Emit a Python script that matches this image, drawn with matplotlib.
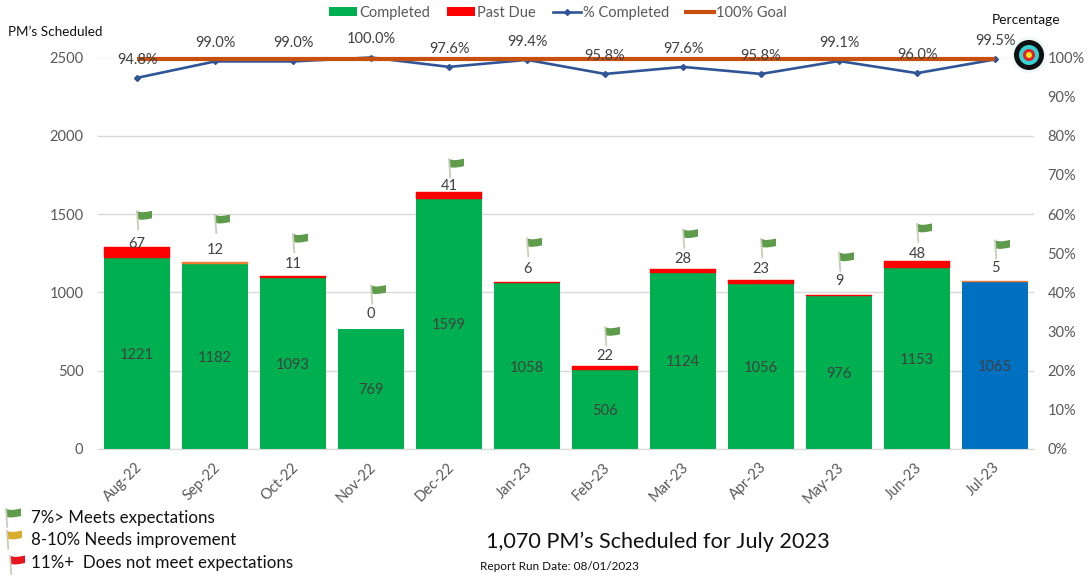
#!/usr/bin/env python
# -*- coding: utf-8 -*-
"""PM's scheduled per month, with % completed line"""
import matplotlib
matplotlib.use('Agg')
import matplotlib.pyplot as plt
from matplotlib.lines import Line2D
from matplotlib.patches import Circle, Patch, Polygon
from matplotlib.ticker import FuncFormatter, MultipleLocator
from matplotlib.transforms import Affine2D, ScaledTranslation

plt.rcParams['font.family'] = ['Lato', 'DejaVu Sans']

W, H = 1088, 578

months = ['Aug-22', 'Sep-22', 'Oct-22', 'Nov-22', 'Dec-22', 'Jan-23',
          'Feb-23', 'Mar-23', 'Apr-23', 'May-23', 'Jun-23', 'Jul-23']
completed = [1221, 1182, 1093, 769, 1599, 1058, 506, 1124, 1056, 976, 1153, 1065]
past_due = [67, 12, 11, 0, 41, 6, 22, 28, 23, 9, 48, 5]
pct_completed = [94.8, 99.0, 99.0, 100.0, 97.6, 99.4, 95.8, 97.6, 95.8, 99.1, 96.0, 99.5]
goal = [100] * 12

# hand placed in the original, pixels above the top of the stack
label_lift = [4, 13, 13, 16, 7, 14, 11, 11, 12, 15, 8, 14]
flag_lift = [36, 47, 42, 43, 33, 44, 39, 39, 41, 42, 37, 41]

GREEN = '#00B050'
RED = '#FF0000'
ORANGE = '#ED7D31'
BLUE = '#0070C0'
LINE_BLUE = '#2F5597'
GOAL = '#C8500F'
TICK = '#595959'
GRID = '#D9D9D9'
INK = '#404040'

FLAG_GREEN = '#5E9C4B'
FLAG_YELLOW = '#D9AE2E'
FLAG_RED = '#E8141E'


def draw_flag(fig, px, py, color):
    """Small flag, top of the pole at display position px, py"""
    t = Affine2D().translate(px, py)
    pole = Line2D([0, 1.3], [0, -18], color='#C9CDB8', lw=1.3, transform=t)
    banner = Polygon([(0, 0), (5, -1), (10, -0.5), (15, 0.5), (15, -7), (10, -8), (5, -8.5), (0, -8)],
                     closed=True, facecolor=color, edgecolor='none', transform=t)
    fig.add_artist(pole)
    fig.add_artist(banner)


fig = plt.figure(figsize=(W / 100, H / 100), dpi=100)
ax = fig.add_axes([98 / W, 1 - 449 / H, (1034 - 98) / W, (449 - 57.5) / H])

x = list(range(len(months)))
bar_colors = [GREEN] * 11 + [BLUE]
due_colors = [RED, ORANGE] + [RED] * 9 + [ORANGE]
due_edges = [0.3 if v > 0 else 0 for v in past_due]
ax.bar(x, completed, width=0.84, color=bar_colors, zorder=2)
ax.bar(x, past_due, width=0.84, bottom=completed, color=due_colors,
       edgecolor=due_colors, linewidth=due_edges, zorder=2)

ax.set_xlim(-0.5, 11.5)
ax.set_ylim(0, 2500)
ax.yaxis.set_major_locator(MultipleLocator(500))
ax.set_xticks(x)
ax.set_xticklabels(months, rotation=45, ha='right', rotation_mode='anchor')
ax.tick_params(axis='both', length=0, labelsize=10.5, labelcolor=TICK)
ax.tick_params(axis='x', pad=8)
ax.tick_params(axis='y', pad=10.5)
nudge = ScaledTranslation(-2 / 100, 0, fig.dpi_scale_trans)
for lab in ax.get_xticklabels():
    lab.set_transform(lab.get_transform() + nudge)
ax.grid(axis='y', color=GRID, lw=1, zorder=0)
ax.set_axisbelow(True)
for side in ['top', 'left', 'right']:
    ax.spines[side].set_visible(False)
ax.spines['bottom'].set_color(GRID)

ax2 = ax.twinx()
ax2.set_ylim(0, 100)
ax2.yaxis.set_major_locator(MultipleLocator(10))
ax2.yaxis.set_major_formatter(FuncFormatter(lambda v, _: f'{v:.0f}%'))
ax2.tick_params(axis='y', length=0, labelsize=10.5, labelcolor=TICK, pad=9.7)
for side in ['top', 'left', 'right', 'bottom']:
    ax2.spines[side].set_visible(False)

ax2.plot(x, pct_completed, color=LINE_BLUE, lw=1.9, marker='D', ms=3, zorder=3, clip_on=False)
# goal line sits a touch under the 100% gridline in the original
goal_shift = ScaledTranslation(0, -1.2 / 100, fig.dpi_scale_trans)
ax2.plot(x, goal, color=GOAL, lw=3, zorder=4, solid_capstyle='butt', clip_on=False,
         transform=ax2.transData + goal_shift)

for i, v in enumerate(pct_completed):
    ax2.annotate(f'{v:.1f}%', (i, v), xytext=(0, 13), textcoords='offset points',
                 ha='center', va='center', fontsize=10.5, color=INK, zorder=5,
                 annotation_clip=False)

fig.canvas.draw()
for i in x:
    ax.annotate(str(completed[i]), (i, completed[i] / 2), xytext=(0, -1), textcoords='offset points',
                ha='center', va='center', fontsize=10.5, color=INK, zorder=5)
    total = completed[i] + past_due[i]
    ax.annotate(str(past_due[i]), (i, total), xytext=(0, (label_lift[i] - 1) * 0.72),
                textcoords='offset points', ha='center', va='center',
                fontsize=10.5, color=INK, zorder=5)
    px, py = ax.transData.transform((i, total))
    draw_flag(fig, px, py + flag_lift[i], FLAG_GREEN)

# target icon beside the 100% tick
cx, cy = 1029, H - 55
target = [(18, '#EEF8F8'), (15, '#101010'), (10, '#35D3D3'), (6, '#E0202A'), (3, '#FFE81A')]
for r, c in target:
    fig.add_artist(Circle((cx, cy), r, facecolor=c, edgecolor='none',
                          transform=Affine2D()))

handles = [
    Patch(facecolor=GREEN, label='Completed'),
    Patch(facecolor=RED, label='Past Due'),
    Line2D([], [], color=LINE_BLUE, lw=1.9, marker='D', ms=3, label='% Completed'),
    Line2D([], [], color=GOAL, lw=3, label='100% Goal'),
]
fig.legend(handles=handles, ncol=4, loc='center', bbox_to_anchor=(558 / W, 1 - 13 / H),
           frameon=False, fontsize=10.5, labelcolor=TICK, handlelength=1.9,
           handleheight=0.6, handletextpad=0.15, columnspacing=1.17,
           borderpad=0, borderaxespad=0)

fig.text(8 / W, 1 - 32 / H, 'PM’s Scheduled', fontsize=9.7, color='#111111', va='center')
fig.text(1026.5 / W, 1 - 20 / H, 'Percentage', fontsize=9.9, color='#111111', va='center', ha='center')

legend_rows = [
    (518, '7%> Meets expectations', FLAG_GREEN, 6, 509),
    (540, '8-10% Needs improvement', FLAG_YELLOW, 7, 531),
    (563, '11%+  Does not meet expectations', FLAG_RED, 10, 556),
]
for ty, txt, col, fx, fy in legend_rows:
    fig.text(31 / W, 1 - ty / H, txt, fontsize=12.2, color='#111111', va='center')
    draw_flag(fig, fx, H - fy, col)

fig.text(657.5 / W, 1 - 541.5 / H, '1,070 PM’s Scheduled for July 2023', fontsize=15.6,
         color='#111111', ha='center', va='center')
fig.text(559 / W, 1 - 566 / H, 'Report Run Date: 08/01/2023', fontsize=8.5,
         color='#111111', ha='center', va='center')

fig.savefig('out.png', dpi=100)
